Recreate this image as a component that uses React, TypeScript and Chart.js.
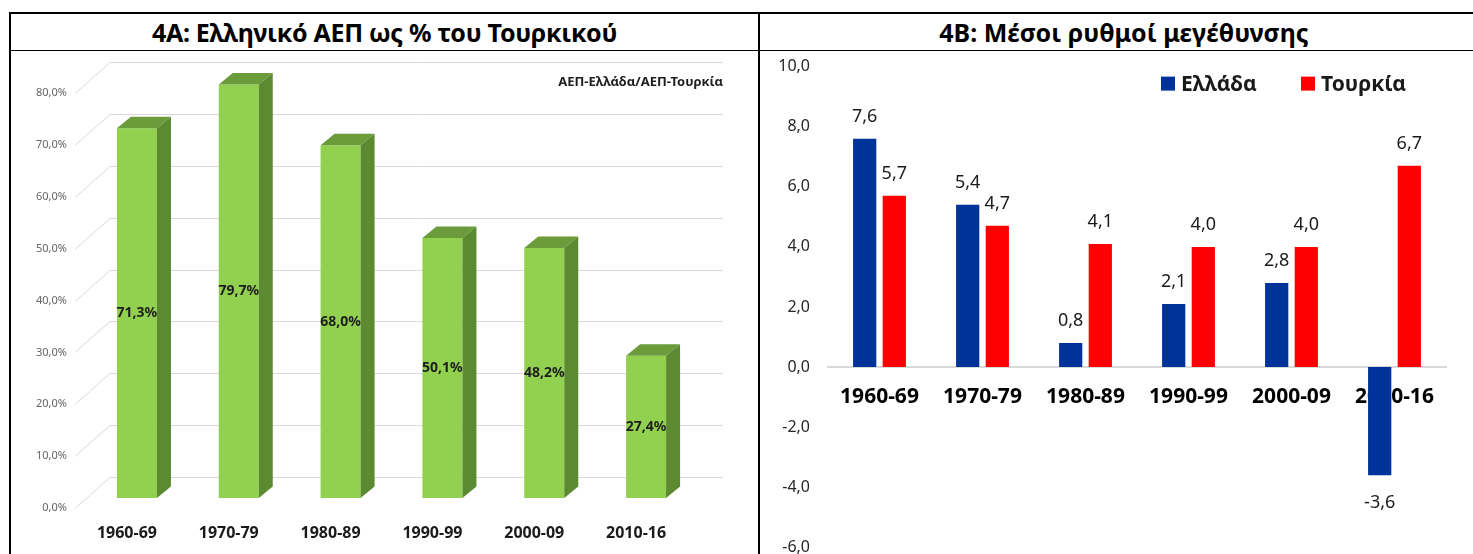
import React, { useEffect, useRef } from 'react';
import { Chart, registerables } from 'chart.js';

Chart.register(...registerables);
Chart.defaults.font.family = "'Noto Sans', 'DejaVu Sans', sans-serif";

// ---------- data ----------
const periods = ['1960-69', '1970-79', '1980-89', '1990-99', '2000-09', '2010-16'];

const ratioTitle = '4A: Ελληνικό ΑΕΠ ως % του Τουρκικού';
const ratioSeriesLabel = 'ΑΕΠ-Ελλάδα/ΑΕΠ-Τουρκία';
const gdpRatio = [71.3, 79.7, 68.0, 50.1, 48.2, 27.4];
const ratioTicks = [0, 10, 20, 30, 40, 50, 60, 70, 80];

const growthTitle = '4B: Μέσοι ρυθμοί μεγέθυνσης';
const greeceLabel = 'Ελλάδα';
const turkeyLabel = 'Τουρκία';
const greeceGrowth = [7.6, 5.4, 0.8, 2.1, 2.8, -3.6];
const turkeyGrowth = [5.7, 4.7, 4.1, 4.0, 4.0, 6.7];
const growthTicks = [-6, -4, -2, 0, 2, 4, 6, 8, 10];

const fmt1 = (v: number) => v.toFixed(1).replace('.', ',');

// ---------- plugins ----------
const bar3dPlugin = {
  id: 'bar3d',
  beforeDatasetsDraw(chart: any) {
    const { ctx, chartArea } = chart;
    const y = chart.scales.y;
    ctx.save();
    ctx.strokeStyle = '#d9d9d9';
    ctx.lineWidth = 1;
    y.ticks.forEach((t: any) => {
      const py = Math.round(y.getPixelForValue(t.value)) + 0.5;
      ctx.beginPath();
      ctx.moveTo(chartArea.left - 11, py + 10);
      ctx.lineTo(chartArea.left + 24, py - 21);
      ctx.lineTo(chartArea.right + 26, py - 21);
      ctx.stroke();
    });
    ctx.restore();
  },
  afterDatasetsDraw(chart: any) {
    const { ctx, chartArea } = chart;
    const dx = 14;
    const dy = -11.5;
    const meta = chart.getDatasetMeta(0);
    const ds = chart.data.datasets[0];
    ctx.save();
    meta.data.forEach((el: any, i: number) => {
      const { x, y, base, width } = el.getProps(['x', 'y', 'base', 'width'], true);
      const l = x - width / 2;
      const r = x + width / 2;
      ctx.fillStyle = '#6B9B3A';
      ctx.beginPath();
      ctx.moveTo(l, y);
      ctx.lineTo(l + dx, y + dy);
      ctx.lineTo(r + dx, y + dy);
      ctx.lineTo(r, y);
      ctx.closePath();
      ctx.fill();
      ctx.fillStyle = '#5C8A31';
      ctx.beginPath();
      ctx.moveTo(r, y);
      ctx.lineTo(r + dx, y + dy);
      ctx.lineTo(r + dx, base + dy);
      ctx.lineTo(r, base);
      ctx.closePath();
      ctx.fill();
      ctx.fillStyle = '#1e1e1e';
      ctx.font = "bold 14px 'Noto Sans'";
      ctx.textAlign = 'center';
      ctx.textBaseline = 'middle';
      ctx.fillText(fmt1(ds.data[i]) + '%', x, (y + base) / 2);
    });
    ctx.fillStyle = '#1e1e1e';
    ctx.font = "bold 13px 'Noto Sans'";
    ctx.textAlign = 'right';
    ctx.textBaseline = 'middle';
    ctx.fillText(ds.label, chartArea.right + 26, chartArea.top - 1);
    ctx.restore();
  },
};

const growthLabelsPlugin = {
  id: 'growthLabels',
  afterDatasetsDraw(chart: any) {
    const { ctx, chartArea } = chart;
    ctx.save();
    ctx.fillStyle = '#1a1a1a';
    ctx.font = "18px 'Noto Sans'";
    ctx.textAlign = 'center';
    chart.data.datasets.forEach((ds: any, di: number) => {
      const meta = chart.getDatasetMeta(di);
      meta.data.forEach((el: any, i: number) => {
        const v = ds.data[i];
        const txt = fmt1(v);
        if (v >= 0) {
          ctx.textBaseline = 'alphabetic';
          ctx.fillText(txt, el.x, el.y - 17);
        } else {
          ctx.textBaseline = 'top';
          ctx.fillText(txt, el.x, el.y + 19);
        }
      });
    });
    // legend
    const offsets = [-285, -145];
    ctx.font = "bold 21px 'Noto Sans'";
    ctx.textAlign = 'left';
    ctx.textBaseline = 'alphabetic';
    chart.data.datasets.forEach((ds: any, di: number) => {
      const sx = chartArea.right + offsets[di];
      const sy = chartArea.top + 10;
      ctx.fillStyle = ds.backgroundColor;
      ctx.fillRect(sx, sy, 14, 14);
      ctx.fillStyle = '#1a1a1a';
      ctx.fillText(ds.label, sx + 20, sy + 14);
    });
    ctx.restore();
  },
};

// ---------- components ----------
function RatioChart() {
  const ref = useRef<HTMLCanvasElement | null>(null);
  useEffect(() => {
    if (!ref.current) return;
    const chart = new Chart(ref.current, {
      type: 'bar',
      data: {
        labels: periods,
        datasets: [
          {
            label: ratioSeriesLabel,
            data: gdpRatio,
            backgroundColor: '#92D050',
            barPercentage: 0.393,
            categoryPercentage: 1,
          },
        ],
      },
      options: {
        animation: false,
        responsive: false,
        maintainAspectRatio: false,
        layout: { padding: { top: 32, right: 61, bottom: 0, left: 0 } },
        plugins: { legend: { display: false }, tooltip: { enabled: false } },
        scales: {
          x: {
            grid: { display: false, drawTicks: false },
            border: { display: false },
            ticks: {
              padding: 26,
              labelOffset: -10,
              color: '#1a1a1a',
              font: { size: 16, weight: 'bold' },
            },
            afterFit: (s: any) => {
              s.height = 56;
            },
          },
          y: {
            min: 0,
            max: 80,
            afterBuildTicks: (s: any) => {
              s.ticks = ratioTicks.map((v) => ({ value: v }));
            },
            grid: { display: false, drawTicks: false },
            border: { display: false },
            ticks: {
              padding: 19,
              labelOffset: 10,
              color: '#666666',
              font: { size: 11 },
              callback: (v: any) => fmt1(Number(v)) + '%',
            },
            afterFit: (s: any) => {
              s.width = 75;
            },
          },
        },
      },
      plugins: [bar3dPlugin],
    } as any);
    return () => chart.destroy();
  }, []);
  return (
    <canvas
      ref={ref}
      width={747}
      height={503}
      style={{ position: 'absolute', left: 11, top: 51, width: 747, height: 503 }}
    />
  );
}

function GrowthChart() {
  const ref = useRef<HTMLCanvasElement | null>(null);
  useEffect(() => {
    if (!ref.current) return;
    const chart = new Chart(ref.current, {
      type: 'bar',
      data: {
        labels: periods,
        datasets: [
          {
            label: greeceLabel,
            data: greeceGrowth,
            backgroundColor: '#003399',
            barPercentage: 0.785,
            categoryPercentage: 0.575,
          },
          {
            label: turkeyLabel,
            data: turkeyGrowth,
            backgroundColor: '#FF0000',
            barPercentage: 0.785,
            categoryPercentage: 0.575,
          },
        ],
      },
      options: {
        animation: false,
        responsive: false,
        maintainAspectRatio: false,
        layout: { padding: { top: 0, right: 27, bottom: 0, left: 0 } },
        plugins: { legend: { display: false }, tooltip: { enabled: false } },
        scales: {
          x: {
            position: { y: 0 },
            z: 1,
            grid: { display: false, drawTicks: false },
            border: { display: true, color: '#d9d9d9', width: 2 },
            ticks: {
              padding: 17,
              color: '#000000',
              font: { size: 21, weight: 'bold' },
            },
          },
          y: {
            min: -6,
            max: 10,
            afterBuildTicks: (s: any) => {
              s.ticks = growthTicks.map((v) => ({ value: v }));
            },
            grid: { display: false, drawTicks: false },
            border: { display: false },
            ticks: {
              padding: 18,
              color: '#262626',
              font: { size: 16 },
              callback: (v: any) => fmt1(Number(v)),
            },
            afterFit: (s: any) => {
              s.width = 68;
            },
          },
        },
      },
      plugins: [growthLabelsPlugin],
    } as any);
    return () => chart.destroy();
  }, []);
  return (
    <canvas
      ref={ref}
      width={713}
      height={536}
      style={{ position: 'absolute', left: 760, top: 39, width: 713, height: 536 }}
    />
  );
}

const line = (s: React.CSSProperties): React.CSSProperties => ({
  position: 'absolute',
  background: '#000',
  ...s,
});

const titleStyle: React.CSSProperties = {
  position: 'absolute',
  top: 14,
  height: 36,
  lineHeight: '36px',
  textAlign: 'center',
  fontFamily: "'Noto Sans', sans-serif",
  fontWeight: 'bold',
  fontSize: 25,
  color: '#000',
  whiteSpace: 'nowrap',
};

export default function App() {
  return (
    <div style={{ position: 'absolute', left: 0, top: 0, width: 1473, height: 554, overflow: 'hidden', background: '#fff' }}>
      <div style={{ ...titleStyle, left: 11, width: 747, letterSpacing: -0.3 }}>{ratioTitle}</div>
      <div style={{ ...titleStyle, left: 760, width: 728 }}>{growthTitle}</div>
      <RatioChart />
      <GrowthChart />
      <div style={line({ left: 9, top: 12, width: 1480, height: 2 })} />
      <div style={line({ left: 9, top: 50, width: 1480, height: 1 })} />
      <div style={line({ left: 9, top: 12, width: 2, height: 560 })} />
      <div style={line({ left: 758, top: 12, width: 2, height: 560 })} />
    </div>
  );
}
